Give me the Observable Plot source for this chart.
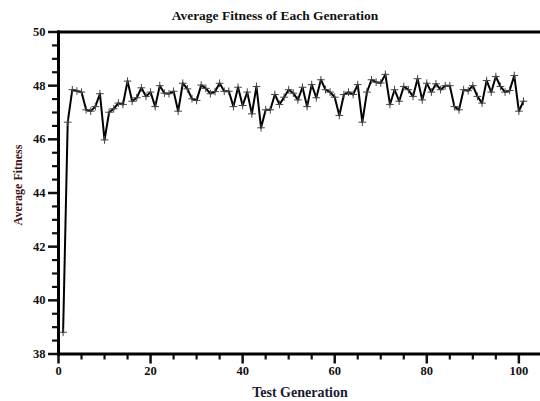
<!DOCTYPE html>
<html><head><meta charset="utf-8">
<script src="https://cdn.jsdelivr.net/npm/d3@7"></script>
<script src="https://cdn.jsdelivr.net/npm/@observablehq/plot@0.6"></script>
<style>body{margin:0;background:#fff}#chart svg{display:block}</style>
</head><body><div id="chart"></div>
<script>
const titleText = "Average Fitness of Each Generation";
const xLabel = "Test Generation";
const yLabel = "Average Fitness";
const generations = [1,2,3,4,5,6,7,8,9,10,11,12,13,14,15,16,17,18,19,20,21,22,23,24,25,26,27,28,29,30,31,32,33,34,35,36,37,38,39,40,41,42,43,44,45,46,47,48,49,50,51,52,53,54,55,56,57,58,59,60,61,62,63,64,65,66,67,68,69,70,71,72,73,74,75,76,77,78,79,80,81,82,83,84,85,86,87,88,89,90,91,92,93,94,95,96,97,98,99,100,101];
const fitness = [38.81,46.64,47.85,47.80,47.76,47.10,47.05,47.22,47.70,45.98,
47.01,47.14,47.35,47.30,48.17,47.42,47.55,47.92,47.60,47.76,
47.22,48.00,47.72,47.70,47.79,47.05,48.09,47.88,47.51,47.45,
48.02,47.90,47.70,47.78,48.09,47.79,47.79,47.22,47.94,47.26,
47.76,46.95,47.97,46.43,47.10,47.10,47.67,47.30,47.57,47.85,
47.72,47.47,47.94,47.22,48.04,47.55,48.22,47.85,47.76,47.57,
46.89,47.67,47.76,47.67,48.04,46.64,47.76,48.22,48.13,48.10,
48.42,47.30,47.85,47.42,47.97,47.85,47.60,48.26,47.47,48.09,
47.76,48.07,47.85,48.00,48.00,47.22,47.10,47.85,47.81,48.00,
47.60,47.35,48.19,47.76,48.34,47.97,47.76,47.82,48.38,47.05,
47.42];
const xMajorTicks = [0,20,40,60,80,100];
const xMinorTicks = [5,10,15,25,30,35,45,50,55,65,70,75,85,90,95];
const yMajorTicks = [38,40,42,44,46,48,50];
const yMinorTicks = [38.5,39,39.5,40.5,41,41.5,42.5,43,43.5,44.5,45,45.5,46.5,47,47.5,48.5,49,49.5];

const data = generations.map((g, i) => ({g, f: fitness[i]}));
const serif = "'Liberation Serif','Times New Roman',serif";

const chart = Plot.plot({
  width: 540, height: 401,
  marginLeft: 58, marginRight: 0, marginTop: 31.5, marginBottom: 47.5,
  x: {domain: [0, 104.7]},
  y: {domain: [38, 50]},
  style: {fontFamily: serif, fontWeight: "bold", fontSize: "12.5px", color: "#111", background: "#fff"},
  marks: [
    Plot.axisX({ticks: xMinorTicks, tickSize: 6, strokeWidth: 2.2, tickFormat: () => "", label: null}),
    Plot.axisX({ticks: xMajorTicks, tickSize: 10, tickPadding: 2, strokeWidth: 2.5, label: null}),
    Plot.axisY({ticks: yMinorTicks, tickSize: 6, strokeWidth: 2.2, tickFormat: () => "", label: null}),
    Plot.axisY({ticks: yMajorTicks, tickSize: 10, tickPadding: 3, strokeWidth: 2.5, label: null}),
    Plot.frame({anchor: "left", strokeWidth: 3, stroke: "#000"}),
    Plot.frame({anchor: "bottom", strokeWidth: 3, stroke: "#000"}),
    Plot.frame({anchor: "top", strokeWidth: 3, stroke: "#000"}),
    Plot.line(data, {x: "g", y: "f", stroke: "#000", strokeWidth: 2}),
    Plot.dot(data, {x: "g", y: "f", symbol: "plus", r: 2.6, stroke: "#444", strokeWidth: 1})
  ]
});

const svg = d3.select(chart);
svg.append("text").text(titleText)
  .attr("x", 275).attr("y", 20)
  .attr("text-anchor", "middle").attr("font-family", serif)
  .attr("font-weight", "bold").attr("font-size", 13.5).attr("fill", "#111");
svg.append("text").text(xLabel)
  .attr("x", 300).attr("y", 397)
  .attr("text-anchor", "middle").attr("font-family", serif)
  .attr("font-weight", "bold").attr("font-size", 14).attr("fill", "#1a1a30");
svg.append("text").text(yLabel)
  .attr("transform", "translate(22,185) rotate(-90)")
  .attr("text-anchor", "middle").attr("font-family", serif)
  .attr("font-weight", "bold").attr("font-size", 12).attr("fill", "#3d1414");

document.getElementById("chart").appendChild(chart);
</script>
</body></html>
